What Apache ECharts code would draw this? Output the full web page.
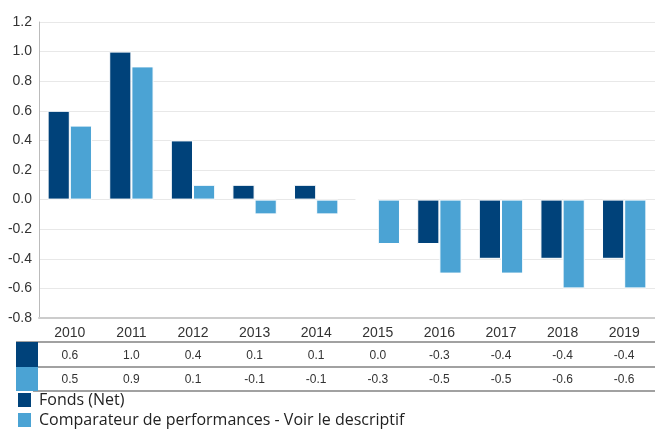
<!DOCTYPE html>
<html>
<head>
<meta charset="utf-8">
<script src="https://cdn.jsdelivr.net/npm/echarts@6/dist/echarts.min.js"></script>
<style>
  html, body { margin: 0; padding: 0; background: #fff; }
  #chart { width: 655px; height: 430px; }
</style>
</head>
<body>
<div id="chart"></div>
<script>
var years = ["2010", "2011", "2012", "2013", "2014", "2015", "2016", "2017", "2018", "2019"];
var fonds = [0.6, 1.0, 0.4, 0.1, 0.1, 0.0, -0.3, -0.4, -0.4, -0.4];
var comparateur = [0.5, 0.9, 0.1, -0.1, -0.1, -0.3, -0.5, -0.5, -0.6, -0.6];
var seriesNames = ["Fonds (Net)", "Comparateur de performances - Voir le descriptif"];
var colors = ["#00427a", "#4ba3d4"];

var chart = echarts.init(document.getElementById("chart"));

function fmt(v) {
  return v.toFixed(1);
}

// table rows are drawn as extra category axes so values line up with the bars
function tableAxis(values, offset) {
  return {
    type: "category",
    position: "bottom",
    offset: offset,
    data: values.map(fmt),
    axisLine: { show: false },
    axisTick: { show: false },
    axisLabel: { margin: 8, fontSize: 12, color: "#333", fontFamily: "Liberation Sans, Arial, sans-serif" },
    splitLine: { show: false }
  };
}

// one legend per series, stacked
function legendRow(name, top) {
  return {
    left: 16,
    top: top,
    itemWidth: 15,
    itemHeight: 16,
    icon: "rect",
    padding: 0,
    textStyle: { fontSize: 16, color: "#222", fontFamily: "Open Sans", padding: [0, 0, 0, 2] },
    data: [name]
  };
}

var lineStyle = { stroke: "#444", lineWidth: 1.2 };

var option = {
  animation: false,
  backgroundColor: "#fff",
  color: colors,
  grid: { left: 39, top: 22, width: 619, height: 296, containLabel: false },
  legend: [
    legendRow(seriesNames[0], 391),
    legendRow(seriesNames[1], 411)
  ],
  xAxis: [
    {
      type: "category",
      data: years,
      axisLine: { onZero: false, lineStyle: { color: "#ccc", width: 2 } },
      axisTick: { show: false },
      axisLabel: { margin: 8, fontSize: 14, color: "#333", fontFamily: "Liberation Sans, Arial, sans-serif" }
    },
    tableAxis(fonds, 24),
    tableAxis(comparateur, 48)
  ],
  yAxis: {
    type: "value",
    min: -0.8,
    max: 1.2,
    interval: 0.2,
    axisLine: { show: true, lineStyle: { color: "#bbb" } },
    axisTick: { show: false },
    axisLabel: {
      margin: 7,
      fontSize: 14,
      color: "#333",
      fontFamily: "Liberation Sans, Arial, sans-serif",
      formatter: function (v) { return v.toFixed(1); }
    },
    splitLine: { lineStyle: { color: "#e8e8e8" } }
  },
  series: [
    {
      name: seriesNames[0],
      type: "bar",
      data: fonds,
      barGap: "0%",
      barCategoryGap: "28%",
      itemStyle: { borderColor: "#fff", borderWidth: 1 }
    },
    {
      name: seriesNames[1],
      type: "bar",
      data: comparateur,
      itemStyle: { borderColor: "#fff", borderWidth: 1 }
    }
  ],
  graphic: [
    { type: "line", shape: { x1: 16, y1: 342, x2: 655, y2: 342 }, style: lineStyle },
    { type: "line", shape: { x1: 16, y1: 367, x2: 655, y2: 367 }, style: lineStyle },
    { type: "line", shape: { x1: 16, y1: 391, x2: 655, y2: 391 }, style: lineStyle },
    { type: "rect", shape: { x: 16, y: 342, width: 22, height: 25 }, style: { fill: colors[0] } },
    { type: "rect", shape: { x: 16, y: 367, width: 22, height: 24 }, style: { fill: colors[1] } }
  ]
};

chart.setOption(option);
</script>
</body>
</html>
